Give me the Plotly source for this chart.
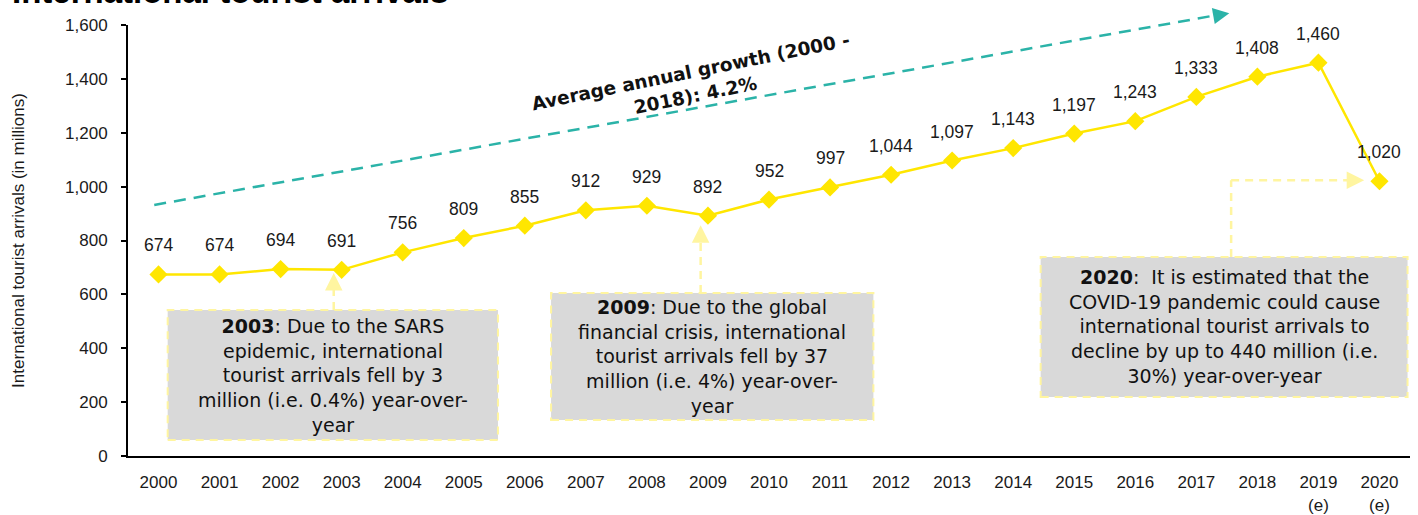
import plotly.graph_objects as go

years = ["2000", "2001", "2002", "2003", "2004", "2005", "2006", "2007", "2008", "2009",
         "2010", "2011", "2012", "2013", "2014", "2015", "2016", "2017", "2018", "2019", "2020"]
tick_labels = ["2000", "2001", "2002", "2003", "2004", "2005", "2006", "2007", "2008", "2009",
               "2010", "2011", "2012", "2013", "2014", "2015", "2016", "2017", "2018",
               "2019<br>(e)", "2020<br>(e)"]
arrivals = [674, 674, 694, 691, 756, 809, 855, 912, 929, 892,
            952, 997, 1044, 1097, 1143, 1197, 1243, 1333, 1408, 1460, 1020]

YMAX = 1600
NCAT = len(years)
YELLOW = "#FFE600"
TEAL = "#2BB3A8"
PALE = "#FFF5A0"
BOXFILL = "#D9D9D9"
SANS = "Liberation Sans, Arial, sans-serif"
BOXFONT = "DejaVu Sans, Noto Sans, sans-serif"

def px(x):  # category index -> paper x
    return (x + 0.5) / NCAT

def py(y):  # value -> paper y
    return y / YMAX

fig = go.Figure()
fig.add_trace(go.Scatter(
    x=list(range(NCAT)), y=arrivals, mode="lines+markers",
    line=dict(color=YELLOW, width=2.5),
    marker=dict(symbol="diamond", size=14, color=YELLOW),
    hoverinfo="skip", showlegend=False, cliponaxis=False))

shapes = []
annotations = []

# data labels
for i, v in enumerate(arrivals):
    annotations.append(dict(x=i, y=v, xref="x", yref="y", text=f"{v:,}", showarrow=False,
                            yshift=29, font=dict(family=SANS, size=17.5, color="#1a1a1a")))

# trend arrow
t0 = (-0.07, 932)
t1 = (17.54, 1644)
shapes.append(dict(type="line", xref="paper", yref="paper",
                   x0=px(t0[0]), y0=py(t0[1]), x1=px(t1[0]) - 0.006, y1=py(t1[1]) - 0.0025,
                   line=dict(color=TEAL, width=2.5, dash="12px,8px")))
annotations.append(dict(x=px(t1[0]), y=py(t1[1]), xref="paper", yref="paper", text="",
                        showarrow=True, ax=-14, ay=2.5, arrowhead=2, arrowsize=1.3,
                        arrowwidth=2.5, arrowcolor=TEAL, standoff=0))
annotations.append(dict(x=0.4406, y=0.864, xref="paper", yref="paper",
                        xanchor="center", yanchor="middle",
                        text="<b>Average annual growth (2000 -<br>2018): 4.2%</b>",
                        showarrow=False, textangle=-11.5,
                        font=dict(family=BOXFONT, size=18.5, color="#111")))

# callout boxes
boxes = [
    dict(x0=0.15, x1=5.56, y0=59, y1=542,
         text="<b>2003</b>: Due to the SARS<br>epidemic, international<br>tourist arrivals fell by 3<br>million (i.e. 0.4%) year-over-<br>year"),
    dict(x0=6.43, x1=11.71, y0=134, y1=605,
         text="<b>2009</b>: Due to the global<br>financial crisis, international<br>tourist arrivals fell by 37<br>million (i.e. 4%) year-over-<br>year"),
    dict(x0=14.45, x1=20.46, y0=219, y1=739,
         text="<b>2020</b>:  It is estimated that the<br>COVID-19 pandemic could cause<br>international tourist arrivals to<br>decline by up to 440 million (i.e.<br>30%) year-over-year"),
]
for b in boxes:
    shapes.append(dict(type="rect", xref="x", yref="y", x0=b["x0"], x1=b["x1"], y0=b["y0"], y1=b["y1"],
                       fillcolor=BOXFILL, line=dict(color=PALE, width=2, dash="8px,6px"), layer="above"))
    annotations.append(dict(x=(b["x0"] + b["x1"]) / 2, y=(b["y0"] + b["y1"]) / 2, xref="x", yref="y",
                            xanchor="center", yanchor="middle",
                            text=b["text"], showarrow=False,
                            font=dict(family=BOXFONT, size=19, color="#111")))

# connectors
conn = [
    [(2.87, 542), (2.87, 655)],
    [(8.88, 605), (8.88, 830)],
    [(17.57, 739), (17.57, 1024), (19.5, 1024)],
]
for c in conn:
    for a, b in zip(c[:-1], c[1:]):
        shapes.append(dict(type="line", xref="x", yref="y", x0=a[0], y0=a[1], x1=b[0], y1=b[1],
                           line=dict(color=PALE, width=2.5, dash="8px,6px")))
heads = [(2.87, 679, 0, 14), (8.88, 857, 0, 14), (19.75, 1024, -16, 0)]
for hx, hy, ax, ay in heads:
    annotations.append(dict(x=hx, y=hy, xref="x", yref="y", text="", showarrow=True,
                            ax=ax, ay=ay, arrowhead=2, arrowsize=1.4, arrowwidth=2.5,
                            arrowcolor=PALE, standoff=0))

# clipped title (cut off at the top edge, as in the reference)
annotations.append(dict(x=-0.092, y=1.030, xref="paper", yref="paper", xanchor="left", yanchor="bottom",
                        text="<b>International tourist arrivals</b>", showarrow=False,
                        font=dict(family=SANS, size=33, color="#000")))

fig.update_layout(
    width=1418, height=515,
    margin=dict(l=128, r=8, t=25, b=59),
    plot_bgcolor="white", paper_bgcolor="white",
    shapes=shapes, annotations=annotations,
    xaxis=dict(range=[-0.5, NCAT - 0.5], tickmode="array", tickvals=list(range(NCAT)),
               ticktext=tick_labels, showgrid=False, zeroline=False, automargin=False,
               showline=True, linecolor="black", linewidth=2, ticks="",
               ticklabelstandoff=10,
               tickfont=dict(family=SANS, size=17, color="#1a1a1a")),
    yaxis=dict(range=[0, YMAX], tickvals=[0, 200, 400, 600, 800, 1000, 1200, 1400, 1600],
               tickformat=",d", showgrid=False, zeroline=False, automargin=False,
               showline=True, linecolor="black", linewidth=2,
               ticks="outside", ticklen=5, tickwidth=2, tickcolor="black",
               ticklabelstandoff=10,
               tickfont=dict(family=SANS, size=17, color="#1a1a1a")),
    yaxis_title=dict(text="International tourist arrivals (in millions)", standoff=36,
                     font=dict(family=SANS, size=17, color="#1a1a1a")),
)

fig.write_html("out.html")
